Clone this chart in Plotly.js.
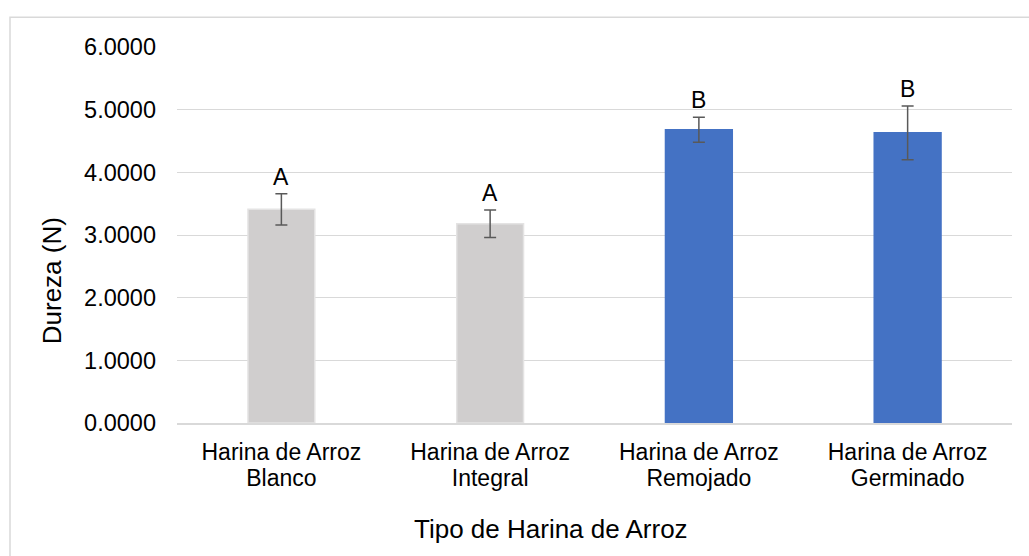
<!DOCTYPE html>
<html>
<head>
<meta charset="utf-8">
<script src="https://cdn.plot.ly/plotly-3.0.1.min.js"></script>
<style>html,body{margin:0;padding:0;background:#fff;}#chart{width:1029px;height:556px;}</style>
</head>
<body>
<div id="chart"></div>
<script>
const categories = ["Harina de Arroz Blanco", "Harina de Arroz Integral", "Harina de Arroz Remojado", "Harina de Arroz Germinado"];
const labelLine1 = ["Harina de Arroz", "Harina de Arroz", "Harina de Arroz", "Harina de Arroz"];
const labelLine2 = ["Blanco", "Integral", "Remojado", "Germinado"];
const dureza = [3.41, 3.18, 4.68, 4.63];
const errores = [0.25, 0.22, 0.20, 0.43];
const letras = ["A", "A", "B", "B"];
const barColors = ["#D0CECE", "#D0CECE", "#4472C4", "#4472C4"];
const lineColors = ["#E4E3E3", "#E4E3E3", "#4472C4", "#4472C4"];
const yTicks = [0, 1, 2, 3, 4, 5, 6];
const yTickText = yTicks.map(v => v.toFixed(4));

const FONT = "Liberation Sans, Arial, sans-serif";
const idx = categories.map((c, i) => i);

const trace = {
  type: "bar",
  x: categories,
  y: dureza,
  marker: {color: barColors, line: {color: lineColors, width: 1.5}},
  error_y: {type: "data", array: errores, visible: true, color: "#595959", thickness: 1.5, width: 6},
  hoverinfo: "none"
};

const annotations = letras.map((t, i) => ({
  x: categories[i], y: dureza[i] + errores[i], xref: "x", yref: "y",
  text: t, showarrow: false, yanchor: "bottom", yshift: 2,
  font: {family: FONT, size: 23, color: "#000"}
}));
annotations.push({
  x: 0.448, y: -0.283, xref: "paper", yref: "paper", text: "Tipo de Harina de Arroz",
  showarrow: false, xanchor: "center", yanchor: "middle",
  font: {family: FONT, size: 26, color: "#000"}
});
annotations.push({
  x: -0.1497, y: 0.377, xref: "paper", yref: "paper", text: "Dureza (N)",
  showarrow: false, xanchor: "center", yanchor: "middle", textangle: -90,
  font: {family: FONT, size: 26, color: "#000"}
});

const layout = {
  width: 1029, height: 556,
  margin: {l: 177, r: 17, t: 47, b: 133},
  paper_bgcolor: "#fff", plot_bgcolor: "#fff",
  bargap: 0.68,
  showlegend: false,
  xaxis: {
    type: "category", showgrid: false, zeroline: false,
    showline: true, linecolor: "#D9D9D9", linewidth: 1.5,
    ticks: "", tickmode: "array", tickvals: categories, ticktext: labelLine1,
    ticklabelstandoff: 8,
    tickfont: {family: FONT, size: 23, color: "#000"}
  },
  xaxis2: {
    overlaying: "x", anchor: "y", side: "bottom", type: "linear",
    range: [-0.5, categories.length - 0.5],
    showgrid: false, zeroline: false, showline: false,
    ticks: "", tickmode: "array", tickvals: idx, ticktext: labelLine2,
    ticklabelstandoff: 39,
    tickfont: {family: FONT, size: 23, color: "#000"}
  },
  yaxis: {
    range: [0, 6], tickvals: yTicks, ticktext: yTickText,
    showgrid: true, gridcolor: "#D9D9D9", gridwidth: 1,
    zeroline: false, showline: false, ticks: "", ticklabelstandoff: 20,
    tickfont: {family: FONT, size: 23.5, color: "#000"}
  },
  annotations: annotations,
  shapes: [{
    type: "rect", xref: "paper", yref: "paper",
    x0: -0.2, x1: 1.025, y0: -0.36, y1: 1.079,
    line: {color: "#D9D9D9", width: 1.5}, fillcolor: "rgba(0,0,0,0)", layer: "below"
  }]
};

const ghost = {type: "scatter", x: idx, y: dureza, xaxis: "x2", yaxis: "y", mode: "none", hoverinfo: "none", showlegend: false};

Plotly.newPlot("chart", [trace, ghost], layout, {displayModeBar: false, staticPlot: true});
</script>
</body>
</html>
